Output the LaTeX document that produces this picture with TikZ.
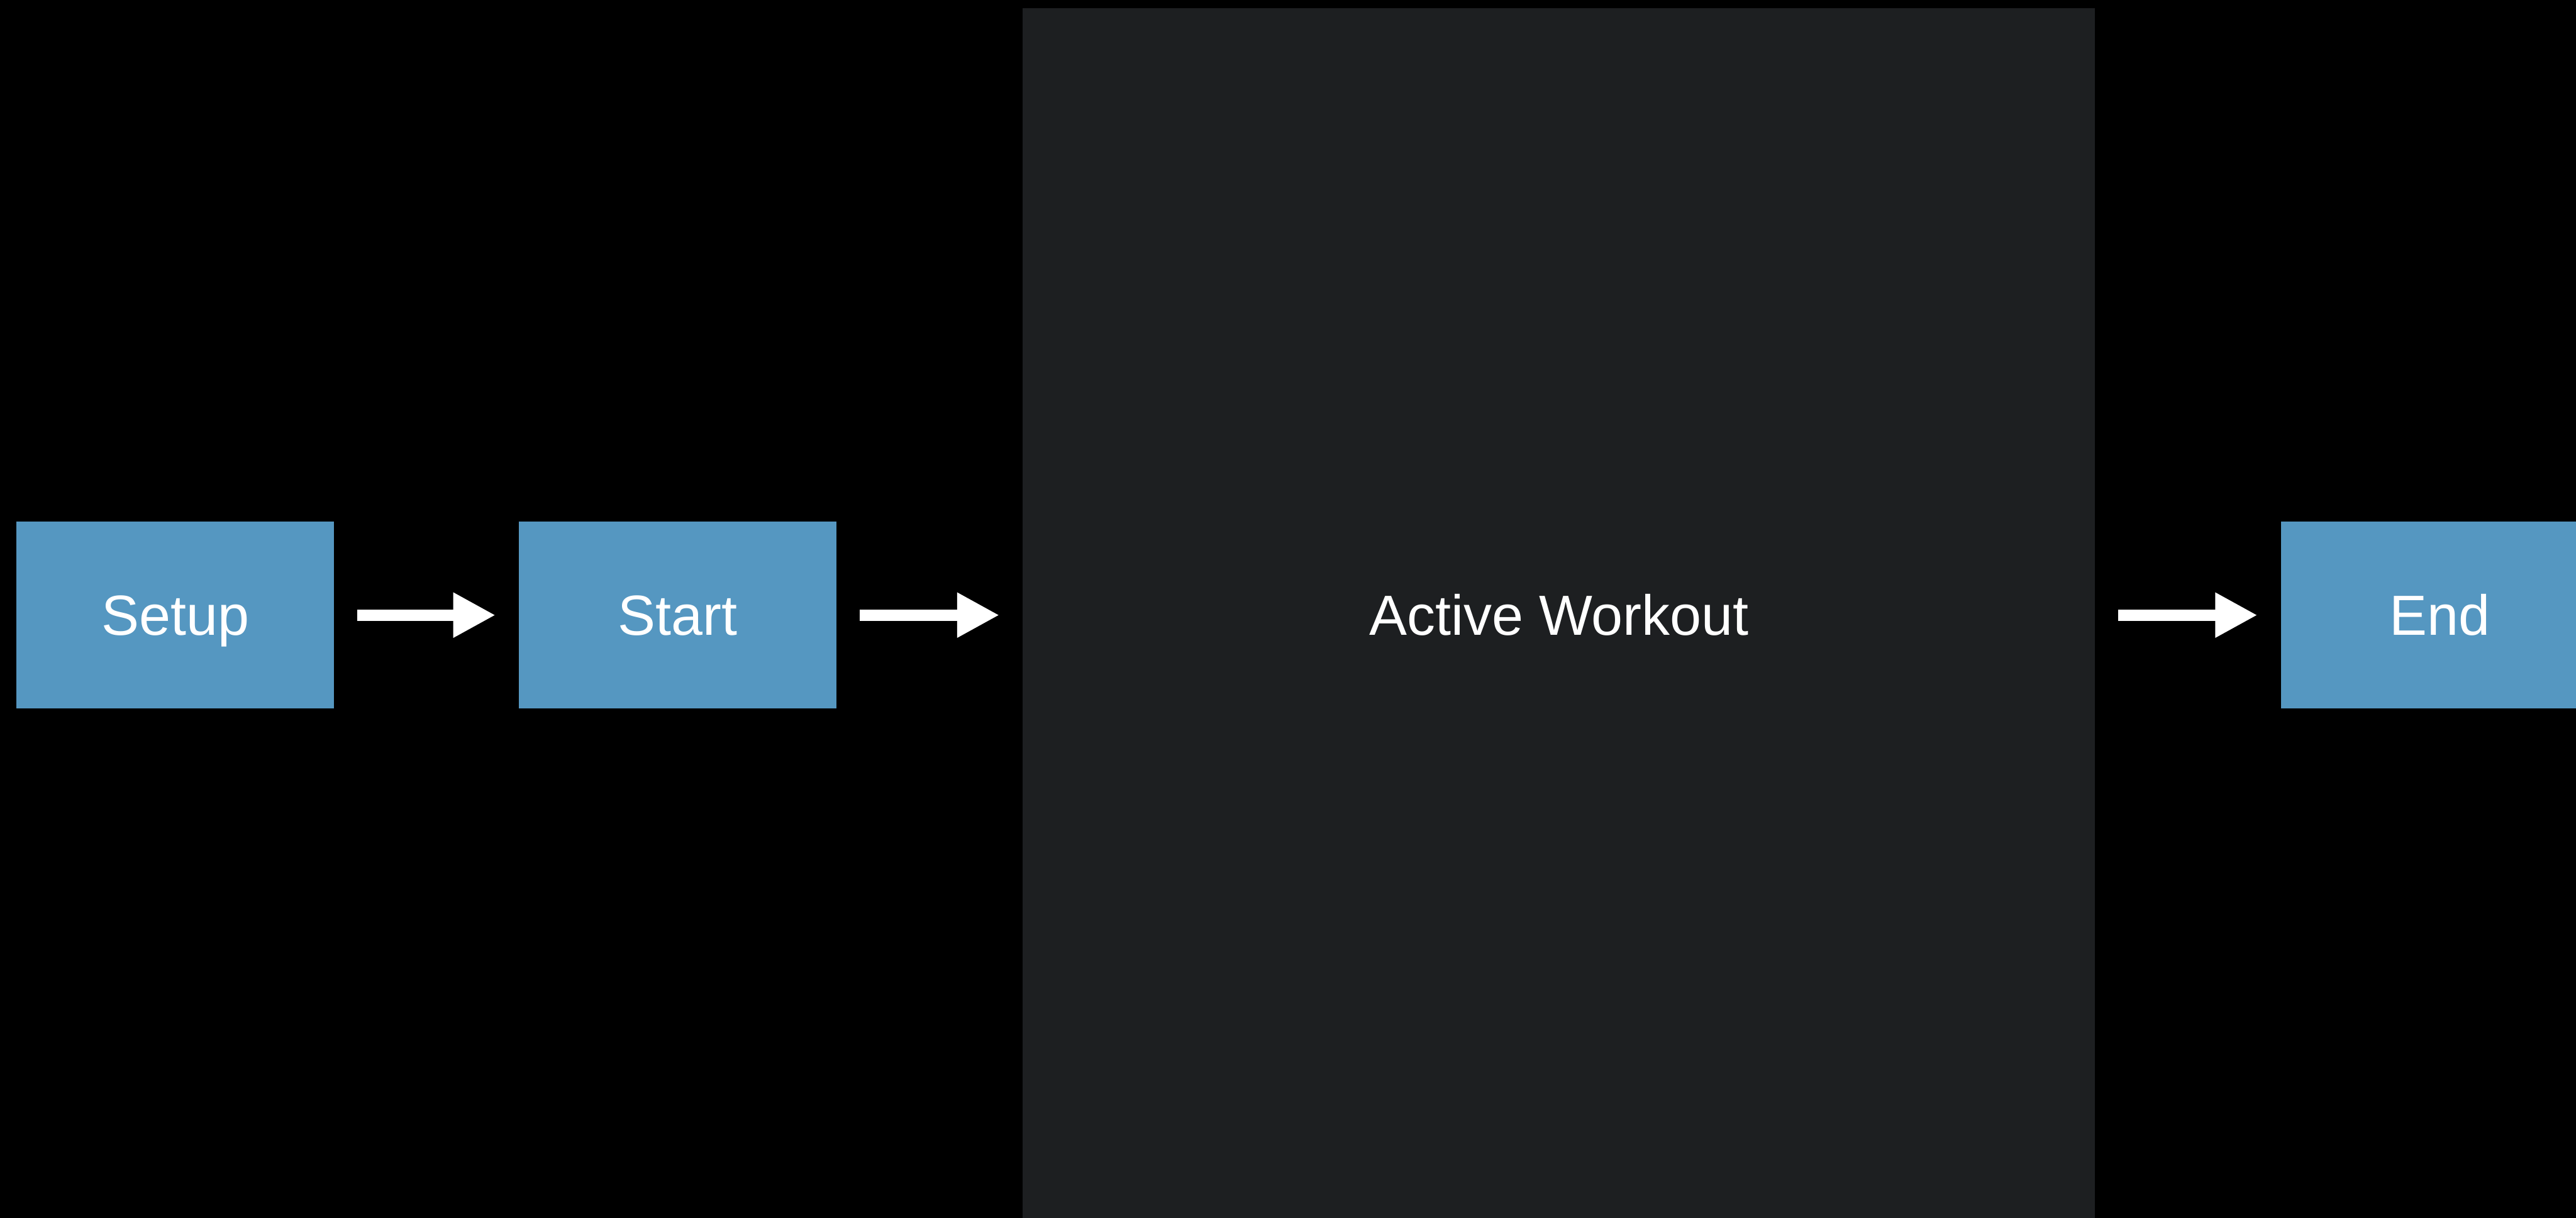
\documentclass[tikz,border=0pt]{standalone}
\usepackage{fontspec}
\setmainfont{Liberation Sans}
\usetikzlibrary{arrows.meta,positioning}
\definecolor{stageblue}{RGB}{85,151,193}
\definecolor{panelgray}{RGB}{29,31,33}

\begin{document}
\begin{tikzpicture}[
  stage/.style={rectangle, fill=stageblue, minimum width=9.08cm, minimum height=5.34cm, inner sep=0pt, text=white, font=\fontsize{46}{50}\selectfont, text height=32.9pt, text depth=0pt},
  panel/.style={rectangle, fill=panelgray, minimum width=30.66cm, minimum height=34.68cm, inner sep=0pt, text=white, font=\fontsize{46}{50}\selectfont, text height=32.9pt, text depth=0pt},
  flow/.style={-{Triangle[length=34.4pt, width=34.4pt]}, white, line width=9.1pt, shorten <=18.6pt, shorten >=18.8pt}
]
  \useasboundingbox (0,0) rectangle (73.65,-34.80);
  \fill[black] (-1,1) rectangle (75,-36);

  \node[stage] (setup) at (5.01, -17.58)  {Setup};
  \node[stage] (start) at (19.375, -17.58) {Start};
  \node[panel] (active) at (44.57, -17.58) {Active Workout};
  \node[stage] (end)   at (69.75, -17.58) {End};

  % Flow between stages
  \draw[flow] (setup) -- (start);
  \draw[flow] (start) -- (active);
  \draw[flow] (active) -- (end);
\end{tikzpicture}
\end{document}
